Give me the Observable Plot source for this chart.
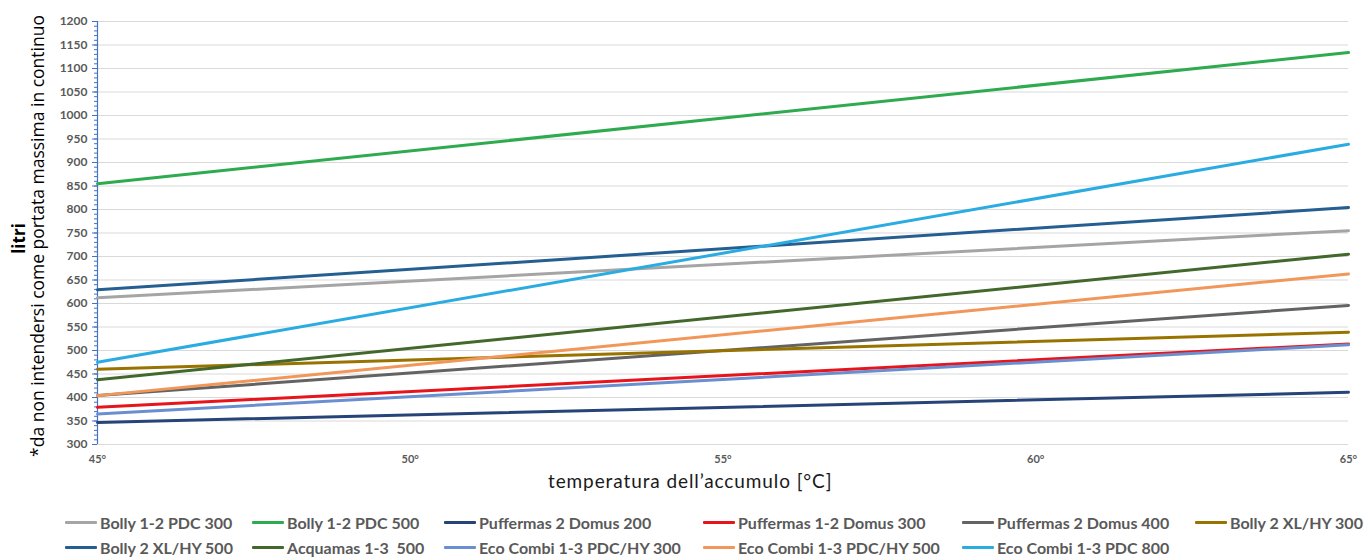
<!DOCTYPE html>
<html>
<head>
<meta charset="utf-8">
<script src="https://cdn.jsdelivr.net/npm/d3@7"></script>
<script src="https://cdn.jsdelivr.net/npm/@observablehq/plot@0.6"></script>
<style>
  body { margin: 0; background: #fff; }
  #wrap { position: relative; width: 1369px; height: 558px; overflow: hidden; }
  #chart { position: absolute; left: 0; top: 0; }
  .ytitle { position: absolute; transform-origin: center; white-space: nowrap; color: #000; }
  #xtitle { position: absolute; top: 469px; white-space: nowrap;
    font-family: "Lato", sans-serif; font-size: 19px; letter-spacing: 0.9px; color: #1a1a1a; }
  #legend { position: absolute; left: 65px; top: 513px; display: grid;
    grid-template-columns: 187px 192px 259px 259px 233px auto; row-gap: 7px;
    font-family: "Lato", sans-serif; font-weight: bold; font-size: 16px; color: #595959; }
  .item { display: flex; align-items: center; white-space: pre; height: 18px; }
  .sw { width: 32px; height: 3px; margin-right: 3px; border-radius: 1px; }
</style>
</head>
<body>
<div id="wrap">
  <div id="chart"></div>
  <div class="ytitle" id="yt1">litri</div>
  <div class="ytitle" id="yt2">*da non intendersi come portata massima in continuo</div>
  <div id="xtitle">temperatura dell’accumulo [°C]</div>
  <div id="legend"></div>
</div>
<script>
const temperatures = [45, 65];
const seriesNames = [
  "Bolly 1-2 PDC 300", "Bolly 1-2 PDC 500", "Puffermas 2 Domus 200",
  "Puffermas 1-2 Domus 300", "Puffermas 2 Domus 400", "Bolly 2 XL/HY 300",
  "Bolly 2 XL/HY 500", "Acquamas 1-3  500", "Eco Combi 1-3 PDC/HY 300",
  "Eco Combi 1-3 PDC/HY 500", "Eco Combi 1-3 PDC 800"
];
const bolly12pdc300 = [612, 755];
const bolly12pdc500 = [855, 1134];
const puffermas2domus200 = [347, 411];
const puffermas12domus300 = [379, 514];
const puffermas2domus400 = [404, 596];
const bolly2xlhy300 = [460, 539];
const bolly2xlhy500 = [629, 804];
const acquamas13_500 = [438, 705];
const ecoCombiHy300 = [365, 512];
const ecoCombiHy500 = [404, 663];
const ecoCombiPdc800 = [475, 939];
const seriesValues = [bolly12pdc300, bolly12pdc500, puffermas2domus200, puffermas12domus300,
  puffermas2domus400, bolly2xlhy300, bolly2xlhy500, acquamas13_500, ecoCombiHy300, ecoCombiHy500, ecoCombiPdc800];
const seriesColors = ["#A5A5A5", "#2EAA4F", "#264478", "#E8141C", "#636363", "#997300",
  "#255E91", "#43682B", "#6A8FD0", "#F1975A", "#2AACE2"];
const xTicks = [45, 50, 55, 60, 65];
const yTicks = d3.range(300, 1201, 50);
const yMinorTicks = d3.range(300, 1201, 10);

const data = seriesNames.flatMap((name, i) =>
  temperatures.map((t, j) => ({series: name, temp: t, value: seriesValues[i][j]})));

const chart = Plot.plot({
  width: 1369,
  height: 470,
  marginLeft: 97,
  marginRight: 21,
  marginTop: 21,
  marginBottom: 26,
  style: {fontFamily: "Lato, sans-serif", fontSize: "11px"},
  x: {domain: [45, 65]},
  y: {domain: [300, 1200]},
  color: {domain: seriesNames, range: seriesColors},
  marks: [
    Plot.gridY(yTicks, {stroke: "#d9d9d9", strokeOpacity: 1, strokeWidth: 1.2}),
    Plot.axisX(xTicks, {tickSize: 0, tickPadding: 11, tickFormat: d => d + "°", label: null,
      fill: "#595959", fontWeight: "bold", fontSize: 11}),
    Plot.axisY(yTicks, {tickSize: 0, tickPadding: 10, tickFormat: d => String(d), label: null, fill: "#595959",
      fontWeight: "bold", fontSize: 12}),
    Plot.axisY(yMinorTicks, {tickSize: 3, tickFormat: () => "", label: null, stroke: "#4472C4", anchor: "left"}),
    Plot.axisY(yTicks, {tickSize: 5, tickFormat: () => "", label: null, stroke: "#4472C4", anchor: "left"}),
    Plot.ruleX([45], {stroke: "#4472C4", strokeWidth: 1.2}),
    Plot.line(data, {x: "temp", y: "value", z: "series", stroke: "series", strokeWidth: 3})
  ]
});
document.getElementById("chart").appendChild(chart);

// x title centred at x = 690
const xt = document.getElementById("xtitle");
xt.style.left = (690 - xt.offsetWidth / 2) + "px";

// y titles
const yt1 = document.getElementById("yt1");
yt1.style.cssText += "font-family:'Open Sans',sans-serif;font-weight:bold;font-size:17px;";
const yt2 = document.getElementById("yt2");
yt2.style.cssText += "font-family:'Open Sans',sans-serif;font-size:17.5px;";
function placeRot(el, cx, cy) {
  const w = el.offsetWidth, h = el.offsetHeight;
  el.style.left = (cx - w / 2) + "px";
  el.style.top = (cy - h / 2) + "px";
  el.style.transform = "rotate(-90deg)";
}
placeRot(yt1, 18, 238);
placeRot(yt2, 37, 236);

// legend
const legend = document.getElementById("legend");
seriesNames.forEach((name, i) => {
  const it = document.createElement("div");
  it.className = "item";
  const sw = document.createElement("span");
  sw.className = "sw";
  sw.style.background = seriesColors[i];
  const tx = document.createElement("span");
  tx.textContent = name;
  it.appendChild(sw); it.appendChild(tx);
  legend.appendChild(it);
});
</script>
</body>
</html>
